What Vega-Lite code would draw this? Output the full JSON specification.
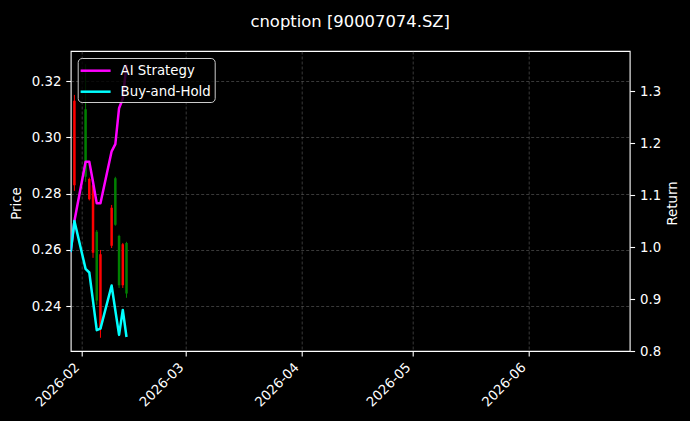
{
  "$schema": "https://vega.github.io/schema/vega-lite/v6.json",
  "width": 559,
  "height": 300,
  "autosize": {"type": "none"},
  "padding": {"left": 70.7, "top": 51, "right": 60.3, "bottom": 70},
  "background": "black",
  "title": {"text": "cnoption [90007074.SZ]", "color": "white", "fontSize": 16.4, "font": "DejaVu Sans", "fontWeight": "normal", "anchor": "middle", "frame": "group", "baseline": "alphabetic", "offset": 8},
  "config": {
    "view": {"stroke": "white", "strokeWidth": 1.1},
    "font": "DejaVu Sans",
    "axis": {
      "labelColor": "white", "tickColor": "white", "domainColor": "white", "titleColor": "white",
      "labelFont": "DejaVu Sans", "titleFont": "DejaVu Sans", "labelFontSize": 13.3, "titleFontSize": 13.3,
      "titleFontWeight": "normal", "tickSize": 4.9, "tickWidth": 1.1, "labelPadding": 4.9,
      "grid": true, "gridColor": "#888888", "gridDash": [3, 2], "gridWidth": 0.6, "gridOpacity": 0.7,
      "domain": false
    }
  },
  "datasets": {
    "candles": [
      {"date": "2026-01-30", "open": 0.2830, "high": 0.3151, "low": 0.2810, "close": 0.3130},
      {"date": "2026-02-02", "open": 0.3100, "high": 0.3260, "low": 0.2842, "close": 0.2860},
      {"date": "2026-02-03", "open": 0.2780, "high": 0.2857, "low": 0.2776, "close": 0.2852},
      {"date": "2026-02-04", "open": 0.2590, "high": 0.2838, "low": 0.2572, "close": 0.2830},
      {"date": "2026-02-05", "open": 0.2665, "high": 0.2671, "low": 0.2405, "close": 0.2420},
      {"date": "2026-02-06", "open": 0.2320, "high": 0.2600, "low": 0.2288, "close": 0.2585},
      {"date": "2026-02-09", "open": 0.2615, "high": 0.2760, "low": 0.2607, "close": 0.2750},
      {"date": "2026-02-10", "open": 0.2855, "high": 0.2860, "low": 0.2686, "close": 0.2690},
      {"date": "2026-02-11", "open": 0.2650, "high": 0.2654, "low": 0.2465, "close": 0.2475},
      {"date": "2026-02-12", "open": 0.2475, "high": 0.2625, "low": 0.2465, "close": 0.2620},
      {"date": "2026-02-13", "open": 0.2625, "high": 0.2629, "low": 0.2430, "close": 0.2445}
    ],
    "returns": [
      {"date": "2026-01-29", "series": "AI Strategy", "value": 0.99},
      {"date": "2026-01-30", "series": "AI Strategy", "value": 1.05},
      {"date": "2026-02-02", "series": "AI Strategy", "value": 1.164},
      {"date": "2026-02-03", "series": "AI Strategy", "value": 1.164},
      {"date": "2026-02-04", "series": "AI Strategy", "value": 1.125},
      {"date": "2026-02-05", "series": "AI Strategy", "value": 1.084},
      {"date": "2026-02-06", "series": "AI Strategy", "value": 1.084},
      {"date": "2026-02-09", "series": "AI Strategy", "value": 1.184},
      {"date": "2026-02-10", "series": "AI Strategy", "value": 1.198},
      {"date": "2026-02-11", "series": "AI Strategy", "value": 1.267},
      {"date": "2026-02-12", "series": "AI Strategy", "value": 1.285},
      {"date": "2026-02-13", "series": "AI Strategy", "value": 1.351},
      {"date": "2026-01-29", "series": "Buy-and-Hold", "value": 0.99},
      {"date": "2026-01-30", "series": "Buy-and-Hold", "value": 1.05},
      {"date": "2026-02-02", "series": "Buy-and-Hold", "value": 0.958},
      {"date": "2026-02-03", "series": "Buy-and-Hold", "value": 0.951},
      {"date": "2026-02-04", "series": "Buy-and-Hold", "value": 0.896},
      {"date": "2026-02-05", "series": "Buy-and-Hold", "value": 0.84},
      {"date": "2026-02-06", "series": "Buy-and-Hold", "value": 0.843},
      {"date": "2026-02-09", "series": "Buy-and-Hold", "value": 0.926},
      {"date": "2026-02-10", "series": "Buy-and-Hold", "value": 0.878},
      {"date": "2026-02-11", "series": "Buy-and-Hold", "value": 0.831},
      {"date": "2026-02-12", "series": "Buy-and-Hold", "value": 0.879},
      {"date": "2026-02-13", "series": "Buy-and-Hold", "value": 0.827}
    ]
  },
  "layer": [
    {
      "data": {"name": "candles"},
      "encoding": {
        "x": {"field": "date", "type": "temporal",
          "scale": {"type": "utc", "domain": [{"year": 2026, "month": 1, "date": 29, "utc": true}, {"year": 2026, "month": 6, "date": 28, "hours": 6, "utc": true}]},
          "axis": {"format": "%Y-%m", "tickCount": {"interval": "month", "step": 1}, "labelAngle": -45, "labelAlign": "right", "labelBaseline": "bottom", "labelPadding": 14, "title": null}},
        "color": {"condition": {"test": "datum.close >= datum.open", "value": "#ff0000"}, "value": "#008000"}
      },
      "layer": [
        {
          "mark": {"type": "rule", "strokeWidth": 1, "clip": true},
          "encoding": {
            "y": {"field": "low", "type": "quantitative",
              "scale": {"domain": [0.2241, 0.3307], "nice": false, "zero": false},
              "axis": {"orient": "left", "values": [0.24, 0.26, 0.28, 0.30, 0.32], "format": ".2f", "title": "Price", "titleAngle": -90, "titleX": -54, "titleY": 152, "titleAlign": "center", "titleBaseline": "middle"}},
            "y2": {"field": "high"}
          }
        },
        {
          "mark": {"type": "rule", "strokeWidth": 2.5, "clip": true},
          "encoding": {
            "y": {"field": "open", "type": "quantitative"},
            "y2": {"field": "close"}
          }
        }
      ]
    },
    {
      "data": {"name": "returns"},
      "mark": {"type": "line", "strokeWidth": 2.5, "strokeJoin": "round", "clip": true},
      "encoding": {
        "x": {"field": "date", "type": "temporal"},
        "y": {"field": "value", "type": "quantitative",
          "scale": {"domain": [0.8, 1.377], "nice": false, "zero": false},
          "axis": {"orient": "right", "values": [0.8, 0.9, 1.0, 1.1, 1.2, 1.3], "format": ".1f", "title": "Return", "titleAngle": -90, "titleX": 43, "titleY": 152, "titleAlign": "center", "titleBaseline": "middle"}},
        "color": {"field": "series", "type": "nominal",
          "scale": {"domain": ["AI Strategy", "Buy-and-Hold"], "range": ["#ff00ff", "#00ffff"]},
          "legend": {"title": null, "orient": "top-left", "offset": 7, "padding": 3.7, "fillColor": "rgba(0,0,0,0.8)", "strokeColor": "#cccccc", "cornerRadius": 4, "symbolType": "M-2,0H2", "symbolSize": 225, "symbolStrokeWidth": 2.5, "symbolOffset": 5.2, "labelColor": "white", "labelFontSize": 13.3, "labelFont": "DejaVu Sans", "labelOffset": 16, "rowPadding": 5}}
      }
    }
  ],
  "resolve": {"scale": {"y": "independent"}, "axis": {"y": "independent"}}
}
